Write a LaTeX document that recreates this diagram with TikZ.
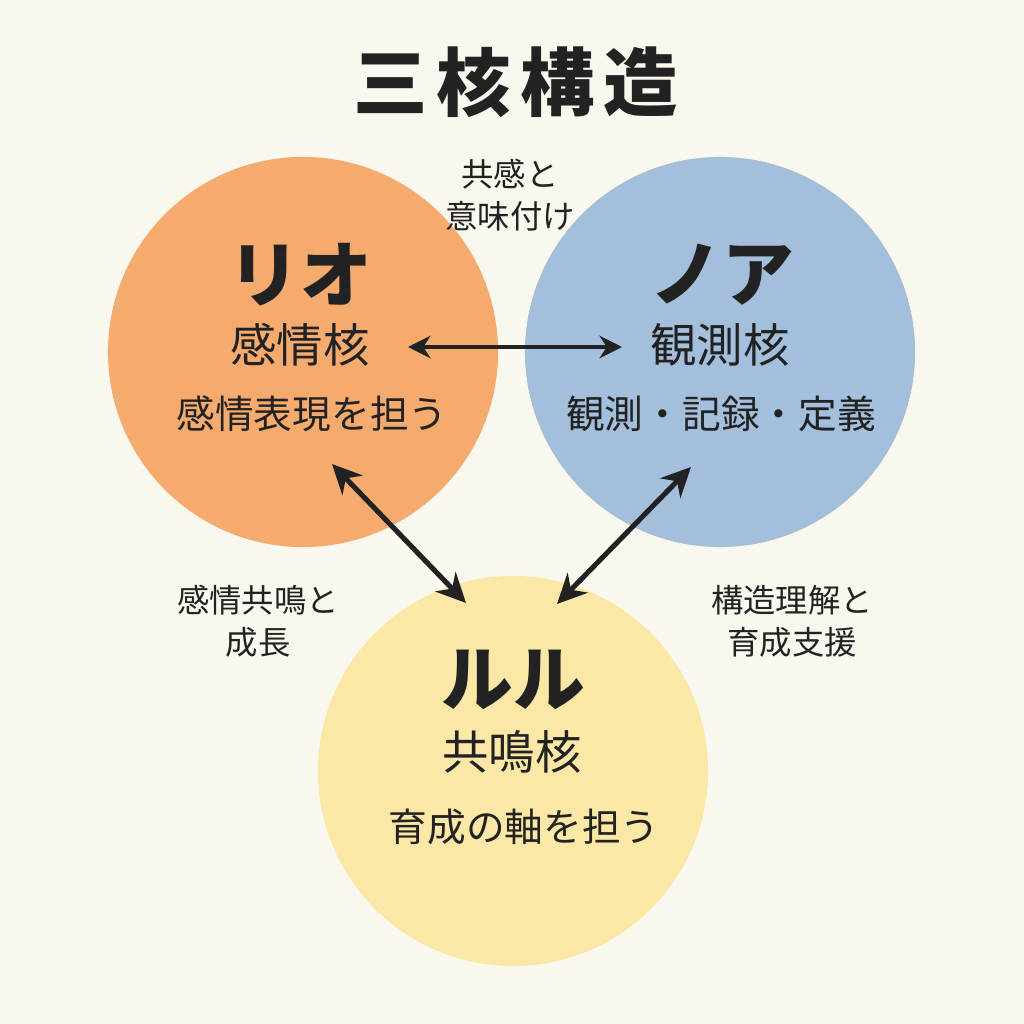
\documentclass[tikz,border=0pt]{standalone}
\usepackage{fontspec}
\setmainfont{Noto Sans CJK JP}
\usetikzlibrary{arrows.meta}
\definecolor{bgcol}{HTML}{FAF8EE}
\definecolor{riocol}{HTML}{F5AA6E}
\definecolor{noacol}{HTML}{A3BFDC}
\definecolor{rulucol}{HTML}{FBE8A6}
\definecolor{inkcol}{HTML}{222222}

\begin{document}
\begin{tikzpicture}[x=0.025cm,y=-0.025cm]
   \tikzstyle{core}=[circle,minimum size=9.75cm,inner sep=0pt]
   \tikzstyle{headline}=[text=inkcol,font=\fontsize{53}{53}\selectfont\bfseries]
   \tikzstyle{corename}=[text=inkcol,font=\fontsize{51}{51}\selectfont\bfseries]
   \tikzstyle{corerole}=[text=inkcol,font=\fontsize{33}{33}\selectfont]
   \tikzstyle{coreduty}=[text=inkcol,font=\fontsize{27.5}{27.5}\selectfont]
   \tikzstyle{link}=[text=inkcol,align=center,font=\fontsize{23}{30}\selectfont]
   \tikzstyle{arrow}=[draw=inkcol,line width=2.8pt,{Stealth[length=16pt,width=16pt]}-{Stealth[length=16pt,width=16pt]}]
   \tikzstyle{bigarrow}=[draw=inkcol,line width=3.6pt,{Stealth[length=21pt,width=20pt]}-{Stealth[length=21pt,width=20pt]}]
   \useasboundingbox (0,0) rectangle (1024,1024);
   \fill [bgcol] (0,0) rectangle (1024,1024);
   \node (title) [headline] at (516,82) {\addfontfeature{LetterSpace=12}三核構造};
   % three cores
   \node (rio) [core,fill=riocol] at (303,352) {};
   \node (noa) [core,fill=noacol] at (720,352) {};
   \node (rulu) [core,fill=rulucol] at (513,771) {};
   \node (rioname) [corename] at (300,275) {リオ};
   \node (riorole) [corerole] at (300,345) {感情核};
   \node (rioduty) [coreduty] at (312,414) {感情表現を担う};
   \node (noaname) [corename] at (722,275) {ノア};
   \node (noarole) [corerole] at (720,345) {観測核};
   \node (noaduty) [coreduty] at (721,414) {観測・記録・定義};
   \node (ruluname) [corename] at (513,680) {ルル};
   \node (rulurole) [corerole] at (512,752) {共鳴核};
   \node (ruluduty) [coreduty] at (524,827) {育成の軸を担う};
   % relations
   \node (rionoa) [link] at (510,195) {共感と\\意味付け};
   \node (riorulu) [link] at (258,621) {感情共鳴と\\成長};
   \node (noarulu) [link] at (792,621) {構造理解と\\育成支援};
   \coordinate (rioright) at (408,347);
   \coordinate (noaleft) at (622,347);
   \coordinate (riobottom) at (332,464);
   \coordinate (rululeft) at (466,603);
   \coordinate (noabottom) at (691,467);
   \coordinate (ruluright) at (557,604);
   \path [arrow] (rioright) -- (noaleft) ;
   \path [bigarrow] (riobottom) -- (rululeft) ;
   \path [bigarrow] (noabottom) -- (ruluright) ;
\end{tikzpicture}
\end{document}
